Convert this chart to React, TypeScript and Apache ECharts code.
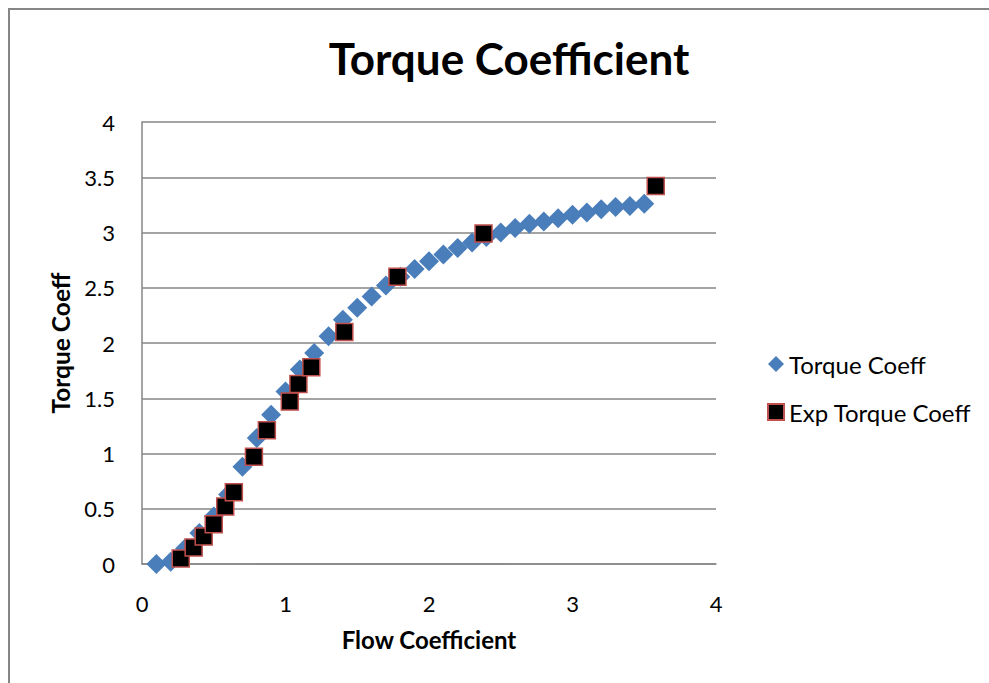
import React, { useEffect, useRef } from "react";
import * as echarts from "echarts";

const torqueX = [0.1, 0.2, 0.3, 0.4, 0.5, 0.6, 0.7, 0.8, 0.9, 1.0, 1.1, 1.2, 1.3, 1.4, 1.5, 1.6, 1.7, 1.8, 1.9, 2.0, 2.1, 2.2, 2.3, 2.4, 2.5, 2.6, 2.7, 2.8, 2.9, 3.0, 3.1, 3.2, 3.3, 3.4, 3.5];
const torqueY = [0.0, 0.02, 0.14, 0.28, 0.43, 0.63, 0.88, 1.14, 1.35, 1.56, 1.76, 1.91, 2.06, 2.21, 2.32, 2.42, 2.52, 2.6, 2.67, 2.74, 2.8, 2.86, 2.91, 2.96, 3.0, 3.04, 3.08, 3.1, 3.13, 3.16, 3.18, 3.21, 3.23, 3.24, 3.26];

const expX = [0.27, 0.36, 0.43, 0.5, 0.58, 0.64, 0.78, 0.87, 1.03, 1.09, 1.18, 1.41, 1.78, 2.38, 3.58];
const expY = [0.05, 0.15, 0.25, 0.36, 0.52, 0.65, 0.97, 1.21, 1.47, 1.63, 1.78, 2.1, 2.6, 2.99, 3.42];

const seriesNames = ["Torque Coeff", "Exp Torque Coeff"];
const titleText = "Torque Coefficient";
const xName = "Flow Coefficient";
const yName = "Torque Coeff";

const FONT = "Lato";

export default function App() {
  const ref = useRef<HTMLDivElement>(null);
  useEffect(() => {
    if (!ref.current) return;
    const chart = echarts.init(ref.current, undefined, { renderer: "svg" });
    const gray = "#868686";
    chart.setOption({
      animation: false,
      backgroundColor: "#ffffff",
      textStyle: { fontFamily: FONT, color: "#000" },
      title: {
        text: titleText,
        left: 504,
        textAlign: "center",
        top: 31,
        textStyle: { fontFamily: FONT, fontWeight: "bold", fontSize: 44, color: "#000" },
      },
      graphic: [
        {
          type: "rect",
          shape: { x: 9, y: 9, width: 1200, height: 900 },
          style: { fill: "none", stroke: gray, lineWidth: 2 },
          silent: true,
        },
      ],
      legend: {
        orient: "vertical",
        left: 762,
        top: 347,
        itemGap: 24,
        itemWidth: 16,
        itemHeight: 16,
        textStyle: { fontFamily: FONT, fontSize: 24, color: "#000", padding: [0, 0, 0, 0] },
        data: [
          { name: seriesNames[0], icon: "diamond" },
          { name: seriesNames[1], icon: "rect" },
        ],
      },
      grid: { left: 142, right: 273, top: 122, bottom: 119, containLabel: false },
      xAxis: {
        type: "value",
        min: 0,
        max: 4,
        interval: 1,
        name: xName,
        nameLocation: "middle",
        nameGap: 63,
        nameTextStyle: { fontFamily: FONT, fontWeight: "bold", fontSize: 24, color: "#000" },
        axisLine: { show: true, lineStyle: { color: gray, width: 1.5 } },
        axisTick: { show: false },
        axisLabel: { fontFamily: FONT, fontSize: 22, color: "#000", margin: 28 },
        splitLine: { show: false },
      },
      yAxis: {
        type: "value",
        min: 0,
        max: 4,
        interval: 0.5,
        name: yName,
        nameLocation: "middle",
        nameGap: 68,
        nameRotate: 90,
        nameTextStyle: { fontFamily: FONT, fontWeight: "bold", fontSize: 24.5, color: "#000" },
        axisLine: { show: true, lineStyle: { color: gray, width: 1.5 } },
        axisTick: { show: false },
        axisLabel: { fontFamily: FONT, fontSize: 22, color: "#000", margin: 27 },
        splitLine: { show: true, lineStyle: { color: gray, width: 1.5 } },
      },
      series: [
        {
          name: seriesNames[0],
          type: "scatter",
          symbol: "diamond",
          symbolSize: 20,
          itemStyle: { color: "#4A7EBB", opacity: 1 },
          data: torqueX.map((x, i) => [x, torqueY[i]]),
        },
        {
          name: seriesNames[1],
          type: "scatter",
          symbol: "rect",
          symbolSize: 17,
          itemStyle: { color: "#000000", borderColor: "#C0504D", borderWidth: 1.5, opacity: 1 },
          data: expX.map((x, i) => [x, expY[i]]),
        },
      ],
    });
    return () => chart.dispose();
  }, []);
  return (
    <div
      ref={ref}
      style={{ position: "fixed", left: 0, top: 0, width: 989, height: 683 }}
    />
  );
}
